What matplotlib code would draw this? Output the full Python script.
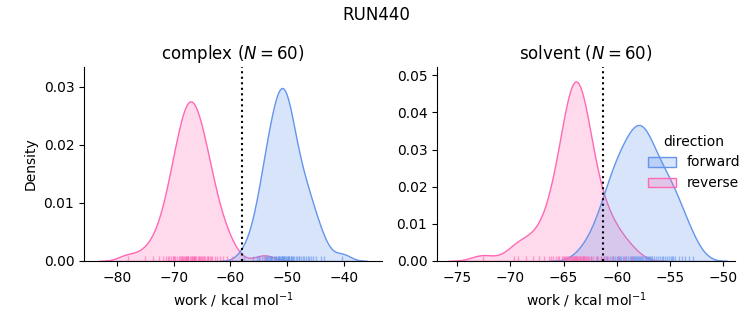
import matplotlib
matplotlib.use('Agg')
import matplotlib.pyplot as plt
import pandas as pd
import seaborn as sns

# work values (kcal/mol), 60 per direction and phase
complex_forward = [-57.6, -56.1, -55.4, -54.9, -54.5, -54.1, -53.8, -53.5, -53.2, -53.0,
                   -52.8, -52.6, -52.4, -52.2, -52.0, -51.9, -51.7, -51.6, -51.4, -53.7,
                   -51.2, -51.0, -50.9, -50.8, -50.6, -50.5, -50.4, -50.2, -50.1, -49.9,
                   -49.8, -49.6, -49.4, -49.2, -49.0, -48.8, -48.5, -48.2, -47.9, -47.6,
                   -47.3, -47.0, -46.7, -46.4, -46.1, -45.8, -45.4, -45.0, -49.3, -44.1,
                   -40.3, -51.5, -51.1, -50.7, -52.9, -53.4, -49.7, -48.0, -55.0, -43.5]
complex_reverse = [-78.1, -75.0, -73.6, -72.6, -71.9, -71.3, -70.8, -70.4, -70.0, -69.7,
                   -69.4, -69.1, -68.9, -68.7, -68.5, -68.3, -68.1, -67.9, -67.8, -67.6,
                   -67.5, -67.4, -70.2, -67.2, -64.6, -67.0, -63.4, -66.8, -66.7, -66.5,
                   -66.4, -66.2, -66.0, -65.8, -65.6, -65.4, -65.2, -65.0, -64.8, -64.5,
                   -64.2, -63.9, -63.6, -63.2, -62.8, -62.4, -61.9, -61.3, -60.6, -59.8,
                   -68.0, -67.7, -68.6, -69.9, -66.6, -66.3, -65.5, -71.0, -64.0, -54.0]
solvent_forward = [-63.2, -62.4, -61.9, -61.5, -61.2, -60.9, -60.6, -60.4, -60.2, -60.0,
                   -59.8, -59.6, -59.4, -59.2, -59.0, -58.8, -58.6, -58.4, -58.2, -58.1,
                   -57.9, -57.8, -57.6, -57.5, -57.3, -57.2, -57.0, -56.9, -56.7, -56.5,
                   -56.3, -56.1, -55.9, -55.7, -55.5, -55.3, -55.1, -54.9, -54.7, -54.5,
                   -54.2, -53.9, -53.6, -53.2, -52.8, -58.0, -57.7, -58.5, -59.1, -57.4,
                   -56.8, -55.8, -58.7, -60.5, -61.0, -58.3, -57.1, -59.9, -54.8, -59.7]
solvent_reverse = [-72.6, -69.7, -69.3, -68.5, -67.9, -67.3, -66.8, -66.4, -66.0, -65.7,
                   -65.4, -65.2, -65.0, -64.8, -64.7, -64.5, -64.4, -64.3, -64.2, -64.1,
                   -64.0, -63.95, -63.9, -63.85, -63.8, -63.75, -63.7, -63.6, -63.5, -63.4,
                   -63.3, -63.2, -63.1, -63.0, -62.9, -62.8, -62.6, -62.4, -62.2, -62.0,
                   -61.8, -61.5, -61.2, -60.8, -60.4, -59.9, -59.3, -58.6, -64.6, -64.9,
                   -64.05, -63.65, -63.45, -64.25, -65.1, -62.7, -63.05, -65.5, -66.2, -61.0]

# free energy estimates drawn as dotted lines
estimates = {'complex': -57.9, 'solvent': -61.3}

rows = []
for phase, direction, values in [('complex', 'forward', complex_forward),
                                 ('complex', 'reverse', complex_reverse),
                                 ('solvent', 'forward', solvent_forward),
                                 ('solvent', 'reverse', solvent_reverse)]:
    for v in values:
        rows.append({'phase': phase, 'direction': direction, 'work': v})
df = pd.DataFrame(rows)

palette = {'forward': 'cornflowerblue', 'reverse': 'hotpink'}

g = sns.displot(data=df, x='work', hue='direction', col='phase', kind='kde',
                fill=True, rug=True, palette=palette,
                hue_order=['forward', 'reverse'],
                rug_kws=dict(alpha=0.6),
                facet_kws=dict(sharex=False, sharey=False),
                height=3.0, aspect=1.0)

fig = g.figure
fig.set_size_inches(7.53, 3.25)
fig.subplots_adjust(left=84 / 753, right=735 / 753, bottom=64 / 325, top=258 / 325,
                    wspace=55 / 298)

xlims = {'complex': (-85.8, -33.3), 'solvent': (-76.9, -48.9)}
ylims = {'complex': (0, 0.0334), 'solvent': (0, 0.0522)}

for ax, phase in zip(g.axes.flat, ['complex', 'solvent']):
    n = len(df[(df.phase == phase) & (df.direction == 'forward')])
    ax.set_title(phase + ' ($N = {}$)'.format(n), fontsize=12)
    ax.axvline(estimates[phase], color='k', linestyle=':', linewidth=1.5)
    ax.set_xlim(xlims[phase])
    ax.set_ylim(ylims[phase])
    ax.set_xlabel('work / kcal mol$^{-1}$')

g.axes.flat[0].set_ylabel('Density')
g.axes.flat[1].set_ylabel('')

fig.suptitle('RUN440', fontsize=12)

plt.savefig('out.png', dpi=100)
